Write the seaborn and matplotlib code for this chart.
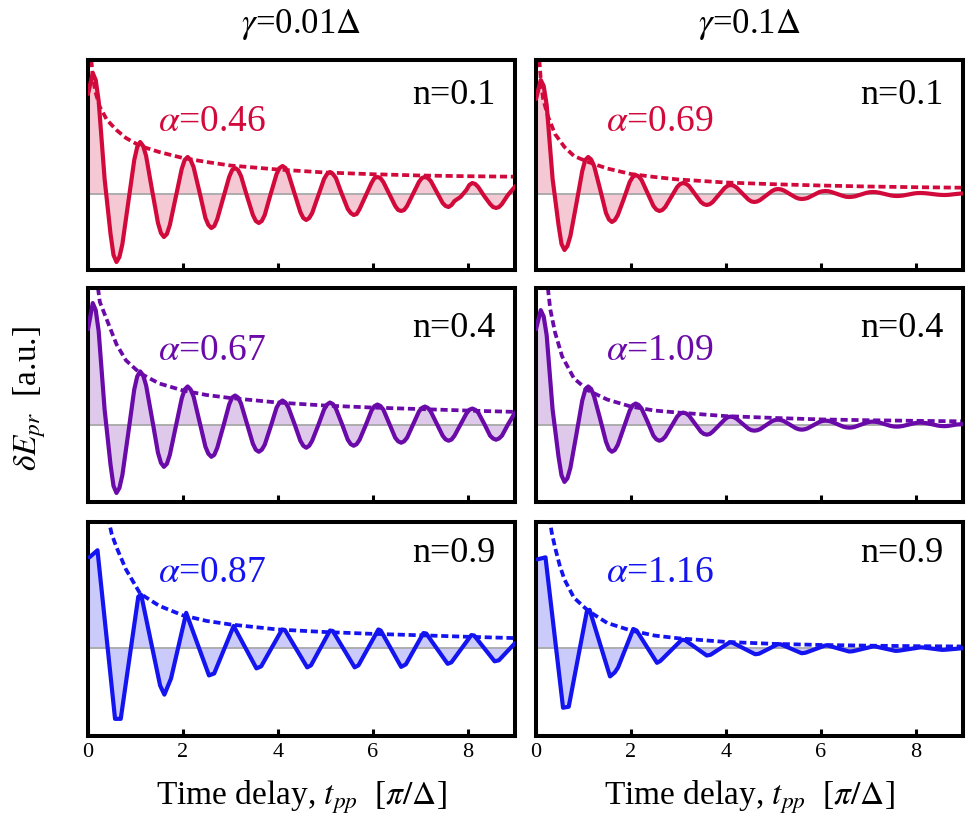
import numpy as np
import matplotlib
matplotlib.use("Agg")
import matplotlib.pyplot as plt
import seaborn as sns

# time grid (units of pi/Delta) for the smooth traces: 12 readings per period,
# denser around the maxima/minima
offsets = [0, 0.0625, 0.125, 0.25, 0.375, 0.4375, 0.5, 0.5625, 0.625, 0.75, 0.875, 0.9375]
t_grid = np.array([0.0] + [n + 0.1 + o for n in range(9) for o in offsets])

# dE_pr traces (arbitrary units, baseline = 0), one row per period
n01_g001 = [100,
            121, 114, 93, 15, -40, -61, -68, -63, -50, -8, 34, 47,
            52, 48, 38, 4, -29, -39, -43, -40, -31, -3, 25, 34,
            37, 34, 27, 2, -24, -31, -34, -32, -25, -4, 17, 24,
            26, 24, 18, -2, -21, -27, -29, -27, -21, 0, 20, 26,
            28, 26, 20, 1, -18, -24, -26, -24, -19, -2, 15, 20,
            22, 20, 16, 0, -15, -19, -21, -20, -15, -2, 11, 16,
            17, 16, 12, 0, -12, -16, -17, -16, -12, 0, 12, 16,
            17, 16, 13, 2, -9, -12, -13, -11, -7, -3, 4, 9,
            11, 10, 7, -2, -10, -13, -14, -13, -10, -1, 6, 9]
n01_g01 = [95,
           114, 108, 89, 15, -31, -50, -56, -52, -42, -10, 23, 34,
           37, 34.5, 28, 5, -19, -25.5, -28, -26, -21, -5, 12, 17,
           19, 17.6, 14, 1, -12, -15.6, -17, -16, -13, -3, 7, 10,
           11, 10.2, 8, 0, -8, -10.2, -11, -10.2, -8, -1, 6, 8.2,
           9, 8.4, 6.5, 0.5, -5.5, -7.4, -8, -7.5, -6, -1.5, 3, 4.5,
           5, 4.6, 3.5, 0, -3.5, -4.6, -5, -4.7, -4, -1, 2, 2.7,
           3, 2.8, 2, 0, -2, -2.8, -3, -2.8, -2.3, -0.5, 1.3, 1.8,
           2, 1.85, 1.4, 0, -1.4, -1.85, -2, -1.9, -1.6, -0.5, 0.6, 0.9,
           1, 0.9, 0.7, 0, -0.7, -0.9, -1, -0.95, -0.7, 0, 0.5, 0.5]
n04_g001 = [95,
            121, 114, 93, 15, -40, -61, -68, -63, -50, -8, 35, 48,
            53, 49, 39, 6, -28, -38, -42, -39, -30, -2, 26, 35,
            38, 35, 28, 3, -22, -29, -32, -30, -23, -2, 20, 27,
            29, 27, 21, 1, -19, -25, -27, -25, -20, -2, 17, 22,
            24, 22, 17, 1, -16, -21, -23, -21, -16, -1, 15, 20,
            22, 20.4, 16, 1, -15, -19.4, -21, -19.4, -15, -1, 14, 18.4,
            20, 18.6, 15, 1, -13, -16.6, -18, -16.6, -13, 0, 13, 16.6,
            18, 16.7, 13, 1, -11, -14.7, -16, -14.8, -11, 0, 11, 14.8,
            16, 14.8, 12, 1, -11, -13.8, -15, -13.8, -11, 0, 10, 13]
n04_g01 = [95,
           114, 107.5, 89, 15, -32, -50.5, -57, -53.4, -43, -10, 24, 34.4,
           38, 35.5, 28, 6, -17, -24.5, -27, -25.2, -20, -3, 14, 19.2,
           21, 19.6, 16, 3, -11, -14.6, -16, -14.9, -12, -2, 8, 10.9,
           12, 11.2, 9, 1, -7, -9.2, -10, -9.3, -7, -1, 5, 7.3,
           8, 7.5, 6, 1, -4, -5.5, -6, -5.6, -4.5, -0.5, 3.5, 4.6,
           5, 4.6, 3.5, 0, -3.5, -4.6, -5, -4.65, -3.7, -0.5, 2.7, 3.65,
           4, 3.7, 3, 0.5, -2, -2.7, -3, -2.8, -2.1, 0, 2.1, 2.8,
           3, 2.8, 2.3, 0.5, -1.3, -1.8, -2, -1.85, -1.4, 0, 1.4, 1.85,
           2, 1.85, 1.5, 0.3, -1, -1.35, -1.5, -1.4, -1, 0, 0.5, 0.5]

# n = 0.9 traces are coarsely sampled in the original
t_n09_g001 = [0.03, 0.2, 0.57, 0.69, 1.06, 1.12, 1.52, 1.61, 1.75, 2.07, 2.55, 2.66,
              3.07, 3.55, 3.65, 4.09, 4.15, 4.62, 4.70, 5.10, 5.16, 5.62, 5.70,
              6.12, 6.17, 6.60, 6.70, 7.07, 7.13, 7.58, 7.66, 8.08, 8.14, 8.57, 8.66, 9.0]
n09_g001 = [90, 97, -70, -70, 51, 53, -37, -46, -30, 35, -27, -25,
            22, -20, -18, 18.5, 18, -19, -17, 17.5, 17, -19, -17,
            18.5, 17.5, -18.5, -16, 15, 14.5, -15.5, -14, 13, 12.5, -13, -12, 5]
t_n09_g01 = [0.03, 0.2, 0.57, 0.69, 1.07, 1.13, 1.56, 1.66, 1.73, 2.05, 2.12, 2.55, 2.62,
             3.07, 3.14, 3.60, 3.68, 4.08, 4.14, 4.62, 4.70, 5.10, 5.16, 5.60, 5.68,
             6.10, 6.16, 6.60, 6.68, 7.10, 7.16, 7.58, 7.66, 8.10, 8.16, 8.56, 8.64, 9.0]
n09_g01 = [88, 90, -59, -58, 36, 38, -28, -24, -19, 19, 17.5, -14.5, -12.7,
           8.3, 8, -7.3, -6.5, 5.7, 5.5, -6, -5.5, 4, 3.8, -5, -4.5,
           2.7, 2.5, -3.3, -3, 1.7, 1.6, -2.7, -2.4, 0.8, 0.7, -1.7, -1.5, 0]

# dotted power-law envelopes
env_t_n01_g001 = [0.07, 0.1, 0.15, 0.25, 0.4, 0.6, 0.8, 1.1, 1.5, 2, 2.5, 3, 4, 5, 6, 7, 8, 9]
env_n01_g001 = [134, 118, 103, 87, 74, 64, 56, 48, 42, 36, 32, 28.5, 24.5, 21.5, 19.8, 18.5, 17.8, 17.3]
env_t_n01_g01 = [0.07, 0.1, 0.15, 0.25, 0.4, 0.6, 0.8, 1.1, 1.5, 2, 2.5, 3, 4, 5, 6, 7, 8, 9]
env_n01_g01 = [134, 115, 95, 78, 60, 47, 38, 32, 25.5, 20, 17, 14.5, 11.5, 9.8, 8.5, 7.5, 6.8, 6.3]
env_t_n04_g001 = [0.21, 0.25, 0.4, 0.6, 0.8, 1.1, 1.5, 2, 2.5, 3, 4, 5, 6, 7, 8, 9]
env_n04_g001 = [136, 122, 104, 80, 64, 51, 41, 34, 29.5, 26.5, 22, 19, 17, 15.5, 14, 12.7]
env_t_n04_g01 = [0.25, 0.3, 0.4, 0.55, 0.8, 1.1, 1.5, 2, 2.5, 3, 4, 5, 6, 7, 8, 9]
env_n04_g01 = [136, 115, 92, 68, 46, 34, 25, 18, 14, 12, 8.5, 6.7, 5.2, 4.4, 3.8, 3.3]
env_t_n09_g001 = [0.42, 0.5, 0.6, 0.8, 1.1, 1.5, 2, 2.5, 3, 4, 5, 6, 7, 8, 9]
env_n09_g001 = [130, 113, 100, 78, 54, 42, 32.5, 27, 23.5, 18.5, 16, 14.2, 12.8, 11.3, 10]
env_t_n09_g01 = [0.28, 0.33, 0.4, 0.5, 0.6, 0.8, 1.1, 1.5, 2, 2.5, 3, 4, 5, 6, 7, 8, 9]
env_n09_g01 = [130, 115, 100, 82, 68, 50, 37, 25, 17.5, 12.5, 9.8, 6.2, 4.3, 3.2, 2.5, 2, 1.7]

gammas = [r'$\gamma$=0.01$\Delta$', r'$\gamma$=0.1$\Delta$']
n_labels = ['n=0.1', 'n=0.4', 'n=0.9']
alphas = [['0.46', '0.69'], ['0.67', '1.09'], ['0.87', '1.16']]
colors = ['#D20A3C', '#6A0AA8', '#1414F0']

traces = [[(t_grid, n01_g001), (t_grid, n01_g01)],
          [(t_grid, n04_g001), (t_grid, n04_g01)],
          [(t_n09_g001, n09_g001), (t_n09_g01, n09_g01)]]
envelopes = [[(env_t_n01_g001, env_n01_g001), (env_t_n01_g01, env_n01_g01)],
             [(env_t_n04_g001, env_n04_g001), (env_t_n04_g01, env_n04_g01)],
             [(env_t_n09_g001, env_n09_g001), (env_t_n09_g01, env_n09_g01)]]

sns.set_style('white')
plt.rcParams['font.family'] = ['Liberation Serif', 'DejaVu Serif']
plt.rcParams['mathtext.fontset'] = 'stix'
plt.rcParams['text.color'] = 'black'
plt.rcParams['axes.labelcolor'] = 'black'
plt.rcParams['xtick.color'] = 'black'

fig = plt.figure(figsize=(9.69, 8.30), dpi=100)

col_left = [88 / 969, 536 / 969]
col_w = 427 / 969
row_bottom = [1 - 270 / 830, 1 - 502 / 830, 1 - 736 / 830]
row_h = [210 / 830, 214 / 830, 214 / 830]
row_ylim = [(-76, 134), (-77, 136), (-87, 125)]
alpha_y = [0.705, 0.705, 0.762]
n_y = [0.833, 0.813, 0.854]

for r in range(3):
    for c in range(2):
        ax = fig.add_axes([col_left[c], row_bottom[r], col_w, row_h[r]])
        t, v = traces[r][c]
        et, ev = envelopes[r][c]
        col = colors[r]
        ax.fill_between(t, v, 0, color=col, alpha=0.22, lw=0, zorder=1)
        ax.axhline(0, color='#a8a8a8', lw=1.3, zorder=1.5)
        sns.lineplot(x=t, y=v, ax=ax, color=col, lw=3.0, estimator=None, sort=False,
                     solid_joinstyle='round', solid_capstyle='round', zorder=3)
        sns.lineplot(x=et, y=ev, ax=ax, color=col, lw=2.7, estimator=None, sort=False,
                     linestyle=(0, (1.9, 1.0)), zorder=2)
        ax.set_xlim(0, 9)
        ax.set_ylim(*row_ylim[r])
        ax.set_yticks([])
        ax.set_xticks([0, 2, 4, 6, 8])
        ax.tick_params(axis='x', direction='in', length=5, width=2.2, bottom=True,
                       labelsize=16, pad=5, colors='black')
        if r < 2:
            ax.tick_params(axis='x', labelbottom=False)
        for s in ax.spines.values():
            s.set_visible(True)
            s.set_linewidth(2.9)
            s.set_color('black')
        ax.set_xlabel('')
        ax.set_ylabel('')
        ax.text(0.955, n_y[r], n_labels[r], transform=ax.transAxes, ha='right', va='center',
                fontsize=26, color='black')
        ax.text(0.164, alpha_y[r], r'$\alpha$=' + alphas[r][c], transform=ax.transAxes,
                ha='left', va='center', fontsize=27, color=col)
        if r == 2:
            ax.set_xlabel(r'Time delay, $t_{pp}$  [$\pi/\Delta$]', fontsize=24, labelpad=12,
                          color='black')

for c in range(2):
    fig.text(col_left[c] + col_w / 2, 1 - 24 / 830, gammas[c], ha='center', va='center',
             fontsize=25, color='black')

fig.text(30 / 969, 0.52, r'$\delta E_{pr}$  [a.u.]', rotation=90, ha='center', va='center',
         fontsize=24, color='black')

fig.savefig('out.png', dpi=100)
